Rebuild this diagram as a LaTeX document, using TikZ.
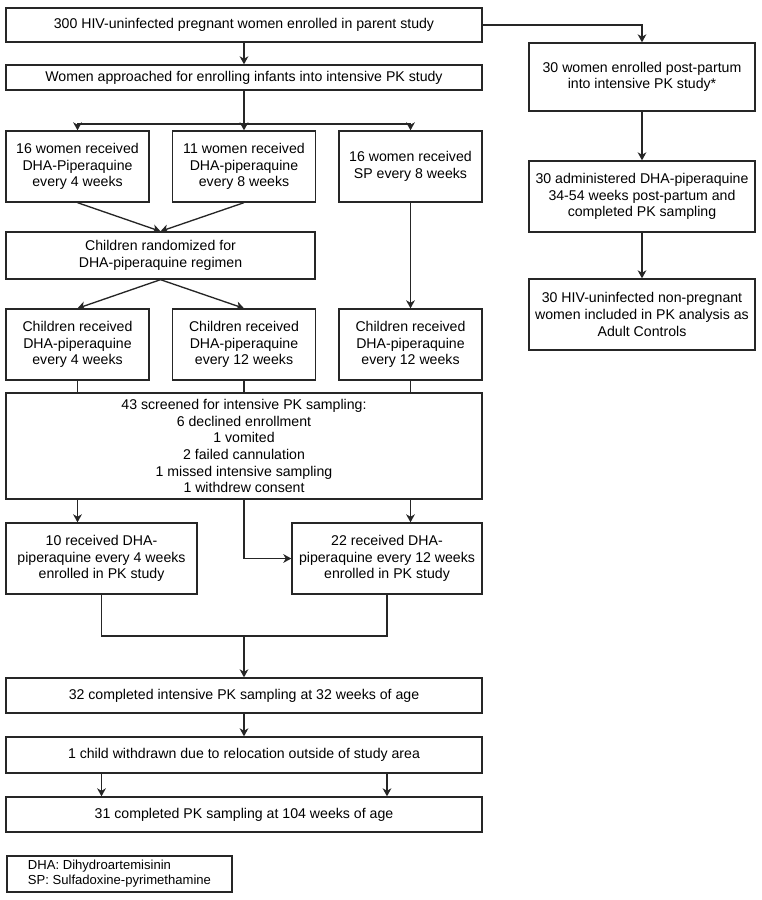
\documentclass[tikz,border=0pt]{standalone}
\usepackage{fontspec}
\setmainfont{Liberation Sans}
\usetikzlibrary{arrows.meta}

\tikzset{
  box/.style={draw=black!85, line width=1pt, inner sep=0pt, align=center,
    font=\fontsize{10.6}{12.5}\selectfont},
  full/.style={minimum width=357pt},
  third/.style={minimum width=107.25pt, minimum height=53.25pt},
  side/.style={minimum width=169.5pt},
  flow/.style={draw=black!85, line width=1pt, -{Stealth[length=6pt,width=6.5pt,inset=1.8pt]}},
  link/.style={draw=black!85, line width=1pt},
}

\begin{document}
\begin{tikzpicture}[x=0.75pt,y=0.75pt,yscale=-1,xscale=1]
\useasboundingbox (0,0) rectangle (762,900);

%Shape: Rectangle [parent study]
\node[box, full, minimum height=25.5pt] (enrol) at (244,25) {300 HIV-uninfected pregnant women enrolled in parent study};
%Shape: Rectangle
\node[box, full, minimum height=18.75pt] (approach) at (244,77.5) {Women approached for enrolling infants into intensive PK study};

%Shape: Rectangle [maternal arms]
\node[box, third] (dp4w) at (77.5,166.5) {16 women received\\DHA-Piperaquine\\every 4 weeks};
\node[box, third] (dp8w) at (244,166.5) {11 women received\\DHA-piperaquine\\every 8 weeks};
\node[box, third] (sp8w) at (410.5,166.5) {16 women received\\SP every 8 weeks};

%Shape: Rectangle
\node[box, minimum width=231.75pt, minimum height=35.25pt] (random) at (160.5,255.5) {Children randomized for\\DHA-piperaquine regimen};

%Shape: Rectangle [child arms]
\node[box, third] (ch4w) at (77.5,344.5) {Children received\\DHA-piperaquine\\every 4 weeks};
\node[box, third] (ch12w) at (244,344.5) {Children received\\DHA-piperaquine\\every 12 weeks};
\node[box, third] (chsp) at (410.5,344.5) {Children received\\DHA-piperaquine\\every 12 weeks};

%Shape: Rectangle [screening]
\node[box, full, minimum height=79.5pt] (screen) at (244,446) {43 screened for intensive PK sampling:\\6 declined enrollment\\1 vomited\\2 failed cannulation\\1 missed intensive sampling\\1 withdrew consent};

%Shape: Rectangle [enrolled]
\node[box, minimum width=143.25pt, minimum height=53.25pt] (pk4w) at (101.5,558.5) {10 received DHA-\\piperaquine every 4 weeks\\enrolled in PK study};
\node[box, minimum width=142.5pt, minimum height=53.25pt] (pk12w) at (387,558.5) {22 received DHA-\\piperaquine every 12 weeks\\enrolled in PK study};

%Shape: Rectangle [follow up]
\node[box, full, minimum height=26.25pt] (comp32) at (244,695.5) {32 completed intensive PK sampling at 32 weeks of age};
\node[box, full, minimum height=27pt] (withdr) at (244,755) {1 child withdrawn due to relocation outside of study area};
\node[box, full, minimum height=26.25pt] (comp104) at (244,814.5) {31 completed PK sampling at 104 weeks of age};

%Shape: Rectangle [legend]
\node[box, align=left, minimum width=168.75pt, minimum height=27pt,
  font=\fontsize{9.8}{11.25}\selectfont] (legend) at (119.5,874) {DHA: Dihydroartemisinin\\SP: Sulfadoxine-pyrimethamine};

%Shape: Rectangle [adult controls]
\node[box, side, minimum height=51pt] (postp) at (642,77) {30 women enrolled post-partum\\into intensive PK study*};
\node[box, side, minimum height=53.25pt] (admin) at (642,196.5) {30 administered DHA-piperaquine\\34-54 weeks post-partum and\\completed PK sampling};
\node[box, side, minimum height=53.25pt] (adult) at (642,314.5) {30 HIV-uninfected non-pregnant\\women included in PK analysis as\\Adult Controls};

\coordinate (split) at (244,124);
\coordinate (merge) at (244,636);

%Straight Lines
\draw[flow] (enrol.south) -- (approach.north);
\draw[link] (approach.south) -- (split);
\draw[flow] (split) -| (dp4w.north);
\draw[flow] (split) -- (dp8w.north);
\draw[flow] (split) -| (sp8w.north);

\draw[flow] (dp4w.south) -- (random.north);
\draw[flow] (dp8w.south) -- (random.north);
\draw[flow] (random.south) -- (ch4w.north);
\draw[flow] (random.south) -- (ch12w.north);
\draw[flow] (sp8w.south) -- (chsp.north);

\draw[link] (ch4w.south) -- (ch4w.south |- screen.north);
\draw[link] (ch12w.south) -- (ch12w.south |- screen.north);
\draw[link] (chsp.south) -- (chsp.south |- screen.north);

\draw[flow] (screen.south -| ch4w) -- (pk4w.north -| ch4w);
\draw[flow] (screen.south -| chsp) -- (pk12w.north -| chsp);
\draw[flow] (screen.south) |- (pk12w.west);

\draw[link] (pk4w.south) |- (merge) -| (pk12w.south);
\draw[flow] (merge) -- (comp32.north);
\draw[flow] (comp32.south) -- (withdr.north);
\draw[flow] (withdr.south -| pk4w) -- (comp104.north -| pk4w);
\draw[flow] (withdr.south -| pk12w) -- (comp104.north -| pk12w);

\draw[flow] (enrol.east) -| (postp.north);
\draw[flow] (postp.south) -- (admin.north);
\draw[flow] (admin.south) -- (adult.north);
\end{tikzpicture}
\end{document}
